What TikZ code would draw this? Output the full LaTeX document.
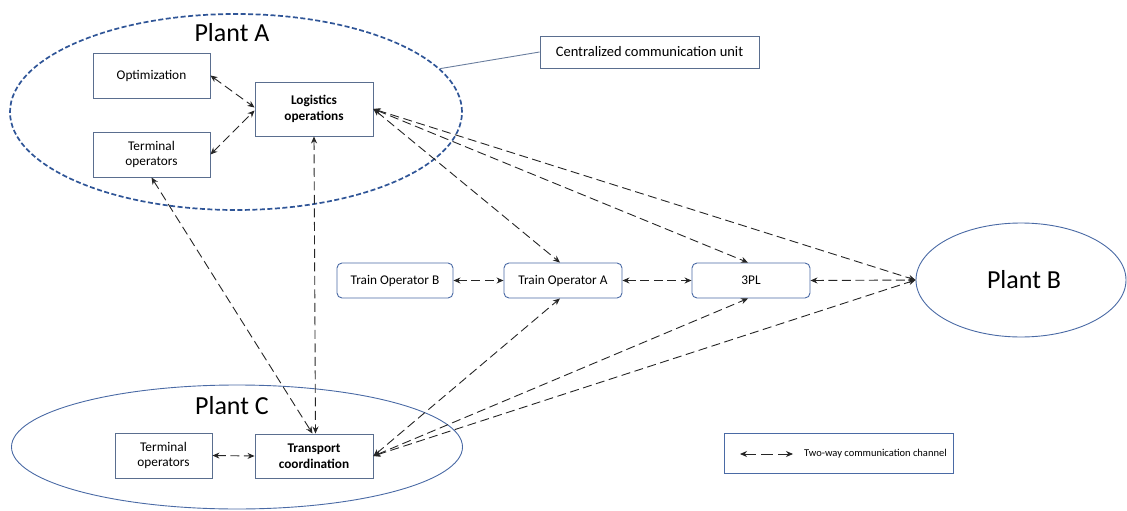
\documentclass[tikz,border=0pt]{standalone}
\usepackage{fontspec}
\setmainfont{Carlito}
\usetikzlibrary{shapes.geometric,arrows.meta}
\definecolor{bord}{HTML}{5A6E8F}
\definecolor{ellc}{HTML}{4A6AA5}
\definecolor{dashc}{HTML}{2F5597}
\definecolor{callc}{HTML}{6A7E9E}
\definecolor{linec}{HTML}{262626}
\begin{document}
\begin{tikzpicture}[x=1pt,y=-1pt,
  box/.style={draw=bord, line width=0.9pt, fill=white, inner sep=0pt, align=center,
              font=\fontsize{13.3}{15.5}\selectfont},
  rbox/.style={box, rounded corners=5pt, draw=ellc},
  bbox/.style={box, font=\fontsize{13.3}{15.5}\selectfont\bfseries},
  plant/.style={ellipse, draw=ellc, line width=0.9pt, inner sep=0pt},
  plantlabel/.style={inner sep=0pt, font=\fontsize{26}{30}\selectfont},
  conn/.style={draw=linec, line width=0.9pt, dash pattern=on 9pt off 4.5pt,
               {Stealth[length=7pt,width=6pt]}-{Stealth[length=7pt,width=6pt]}},
]
\useasboundingbox (0,0) rectangle (1127,511);

% plants
\node[plant, draw=dashc, line width=1.7pt, dash pattern=on 5pt off 2.5pt,
      minimum width=452pt, minimum height=196pt] (PA) at (236,112) {};
\node[plantlabel] (PAl) at (232,33) {Plant A};
\node[plant, minimum width=451pt, minimum height=124pt] (PC) at (237,447) {};
\node[plantlabel] (PCl) at (232,406) {Plant C};
\node[plant, minimum width=210pt, minimum height=114pt] (PB) at (1021,280) {};
\node[plantlabel] (PBl) at (1024,280) {Plant B};

% boxes in Plant A
\node[box, minimum width=117pt, minimum height=45pt] (OPT) at (151.5,75.5) {Optimization};
\node[bbox, minimum width=118pt, minimum height=54pt] (LO) at (314,109) {Logistics\\operations};
\node[box, minimum width=117pt, minimum height=45pt] (TA) at (151.5,154.5) {Terminal\\operators};

% boxes in Plant C
\node[box, minimum width=97pt, minimum height=45pt] (TCo) at (163.5,455.5) {Terminal\\operators};
\node[bbox, minimum width=118pt, minimum height=44pt] (TC) at (314,456) {Transport\\coordination};

% middle row
\node[rbox, minimum width=116pt, minimum height=35pt] (TOB) at (395,280.5) {Train Operator B};
\node[rbox, minimum width=118pt, minimum height=35pt] (TOA) at (563,280.5) {Train Operator A};
\node[rbox, minimum width=118pt, minimum height=35pt] (TPL) at (751,280.5) {3PL};

% callout
\node[box, font=\fontsize{14.5}{17}\selectfont, minimum width=219pt, minimum height=32pt] (CCU) at (649.5,52) {Centralized communication unit};
\draw[callc, line width=0.9pt] (PA.12) -- (CCU.west);

% connectors
\draw[conn] (OPT.east) -- ([yshift=1.5pt]LO.west);
\draw[conn] (TA.east) -- ([yshift=-1.5pt]LO.west);
\draw[conn] (TA.south) -- ([xshift=-1.5pt]TC.north);
\draw[conn] (LO.south) -- ([xshift=1.5pt]TC.north);
\draw[conn] (LO.east) -- ([xshift=-3pt]TOA.north);
\draw[conn] (LO.east) -- ([xshift=-3pt]TPL.north);
\draw[conn] (LO.east) -- (PB.west);
\draw[conn] (TOB.east) -- (TOA.west);
\draw[conn] (TOA.east) -- (TPL.west);
\draw[conn] (TPL.east) -- (PB.west);
\draw[conn] (TC.east) -- ([xshift=-3pt]TOA.south);
\draw[conn] (TC.east) -- ([xshift=-3pt]TPL.south);
\draw[conn] (TC.east) -- (PB.west);
\draw[conn] (TCo.east) -- (TC.west);

% legend
\node[box, draw=ellc, minimum width=229pt, minimum height=40pt] (LG) at (838.5,453) {};
\coordinate (L1) at (740,454);
\coordinate (L2) at (793,454);
\draw[conn, dash pattern=on 12pt off 5pt] (L1) -- (L2);
\node[anchor=west, inner sep=0pt, font=\fontsize{10.5}{12}\selectfont] (LT) at (804,454) {Two-way communication channel};
\end{tikzpicture}
\end{document}
